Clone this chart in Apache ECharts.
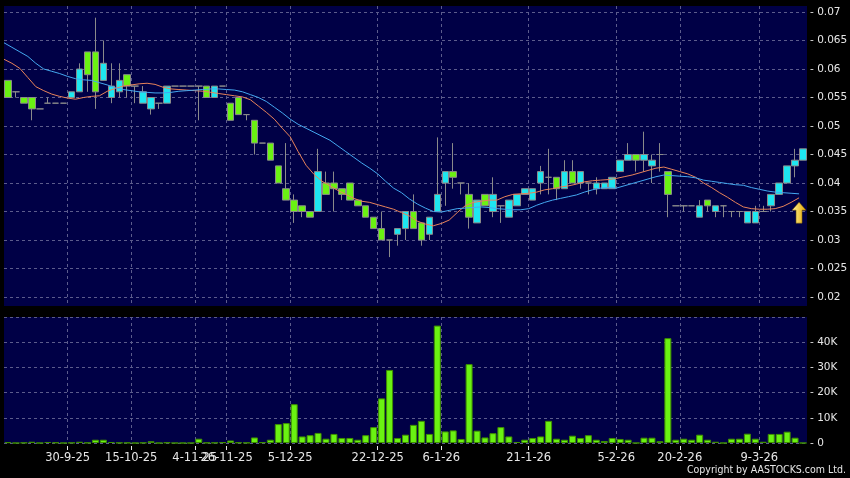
<!DOCTYPE html>
<html>
<head>
<meta charset="utf-8">
<title>Daily chart</title>
<script src="https://cdn.jsdelivr.net/npm/echarts@6/dist/echarts.min.js"></script>
<style>
  html, body { margin: 0; padding: 0; background: #000; }
  #chart { width: 850px; height: 478px; }
</style>
</head>
<body>
<div id="chart"></div>
<script>
// trading days shown on the chart
const dates = [
  '17-9-25', '18-9-25', '19-9-25', '22-9-25', '23-9-25', '24-9-25', '25-9-25', '29-9-25',
  '30-9-25', '2-10-25', '3-10-25', '6-10-25', '8-10-25', '9-10-25', '10-10-25', '14-10-25',
  '15-10-25', '16-10-25', '17-10-25', '20-10-25', '22-10-25', '24-10-25', '28-10-25', '31-10-25',
  '4-11-25', '7-11-25', '13-11-25', '20-11-25',
  '26-11-25', '27-11-25', '28-11-25', '29-11-25', '1-12-25', '2-12-25', '3-12-25', '4-12-25',
  '5-12-25', '8-12-25', '9-12-25', '10-12-25', '11-12-25', '12-12-25', '15-12-25', '16-12-25',
  '17-12-25', '18-12-25', '19-12-25',
  '22-12-25', '23-12-25', '24-12-25', '29-12-25', '30-12-25', '31-12-25', '2-1-26', '5-1-26',
  '6-1-26', '7-1-26', '8-1-26', '9-1-26', '12-1-26', '13-1-26', '14-1-26', '15-1-26', '16-1-26',
  '19-1-26', '20-1-26',
  '21-1-26', '22-1-26', '23-1-26', '26-1-26', '27-1-26', '28-1-26', '29-1-26', '30-1-26', '2-2-26',
  '3-2-26', '4-2-26',
  '5-2-26', '6-2-26', '9-2-26', '10-2-26', '11-2-26', '12-2-26', '13-2-26', '16-2-26',
  '20-2-26', '23-2-26', '24-2-26', '25-2-26', '26-2-26', '27-2-26', '2-3-26', '3-3-26', '4-3-26',
  '5-3-26',
  '9-3-26', '10-3-26', '11-3-26', '12-3-26', '13-3-26', '16-3-26'
]

// index of the dates that get a label, tick and grid line
const labelIdx = [8, 16, 24, 28, 36, 47, 55, 66, 77, 85, 95]

const openPrices = [
  0.058, 0.056, 0.055, 0.055, 0.053, 0.054, 0.054, 0.054, 0.055, 0.056,
  0.063, 0.063, 0.058, 0.055, 0.056, 0.059, 0.057, 0.054, 0.053, 0.054,
  0.054, 0.057, 0.057, 0.057, 0.057, 0.057, 0.055, 0.057, 0.054, 0.055,
  0.052, 0.051, 0.047, 0.047, 0.043, 0.039, 0.037, 0.036, 0.035, 0.035,
  0.040, 0.040, 0.039, 0.040, 0.037, 0.036, 0.034, 0.032, 0.030, 0.031,
  0.032, 0.035, 0.033, 0.031, 0.035, 0.040, 0.042, 0.040, 0.038, 0.033,
  0.038, 0.035, 0.036, 0.034, 0.036, 0.038, 0.037, 0.040, 0.041, 0.041,
  0.039, 0.042, 0.040, 0.040, 0.039, 0.039, 0.039, 0.042, 0.044, 0.045,
  0.044, 0.043, 0.045, 0.042, 0.036, 0.036, 0.036, 0.034, 0.037, 0.035,
  0.036, 0.035, 0.035, 0.033, 0.033, 0.035, 0.036, 0.038, 0.040, 0.043,
  0.044
]
const closePrices = [
  0.055, 0.056, 0.054, 0.053, 0.053, 0.054, 0.054, 0.054, 0.056, 0.060,
  0.059, 0.056, 0.061, 0.057, 0.058, 0.057, 0.057, 0.056, 0.055, 0.054,
  0.057, 0.057, 0.057, 0.057, 0.057, 0.055, 0.057, 0.057, 0.051, 0.052,
  0.052, 0.047, 0.047, 0.044, 0.040, 0.037, 0.035, 0.035, 0.034, 0.042,
  0.038, 0.039, 0.038, 0.037, 0.036, 0.034, 0.032, 0.030, 0.030, 0.032,
  0.035, 0.032, 0.030, 0.034, 0.038, 0.042, 0.041, 0.040, 0.034, 0.037,
  0.036, 0.038, 0.036, 0.037, 0.038, 0.039, 0.039, 0.042, 0.041, 0.039,
  0.042, 0.040, 0.042, 0.040, 0.040, 0.040, 0.041, 0.044, 0.045, 0.044,
  0.045, 0.044, 0.045, 0.038, 0.036, 0.036, 0.036, 0.036, 0.036, 0.036,
  0.036, 0.035, 0.035, 0.035, 0.035, 0.035, 0.038, 0.040, 0.043, 0.044,
  0.046
]
const lowPrices = [
  0.055, 0.055, 0.054, 0.051, 0.053, 0.054, 0.054, 0.054, 0.055, 0.056,
  0.056, 0.053, 0.058, 0.054, 0.055, 0.055, 0.054, 0.054, 0.052, 0.053,
  0.054, 0.057, 0.057, 0.057, 0.051, 0.055, 0.055, 0.057, 0.051, 0.052,
  0.051, 0.045, 0.047, 0.044, 0.040, 0.037, 0.033, 0.034, 0.034, 0.035,
  0.038, 0.035, 0.037, 0.037, 0.036, 0.034, 0.032, 0.030, 0.027, 0.029,
  0.030, 0.032, 0.029, 0.030, 0.035, 0.036, 0.039, 0.038, 0.032, 0.033,
  0.036, 0.034, 0.033, 0.034, 0.036, 0.038, 0.037, 0.038, 0.038, 0.037,
  0.039, 0.040, 0.039, 0.038, 0.038, 0.039, 0.039, 0.042, 0.044, 0.042,
  0.042, 0.040, 0.042, 0.034, 0.036, 0.035, 0.036, 0.034, 0.035, 0.034,
  0.034, 0.034, 0.034, 0.033, 0.033, 0.035, 0.035, 0.038, 0.040, 0.041,
  0.044
]
const highPrices = [
  0.058, 0.056, 0.055, 0.055, 0.053, 0.055, 0.054, 0.054, 0.056, 0.061,
  0.063, 0.069, 0.065, 0.061, 0.061, 0.059, 0.057, 0.057, 0.055, 0.054,
  0.057, 0.057, 0.057, 0.057, 0.057, 0.057, 0.057, 0.057, 0.054, 0.055,
  0.052, 0.051, 0.047, 0.047, 0.043, 0.047, 0.038, 0.036, 0.035, 0.046,
  0.042, 0.042, 0.039, 0.040, 0.037, 0.036, 0.034, 0.035, 0.030, 0.032,
  0.035, 0.038, 0.033, 0.034, 0.048, 0.042, 0.047, 0.040, 0.040, 0.037,
  0.038, 0.041, 0.036, 0.037, 0.038, 0.039, 0.039, 0.043, 0.046, 0.041,
  0.044, 0.044, 0.042, 0.040, 0.041, 0.040, 0.041, 0.044, 0.047, 0.045,
  0.049, 0.045, 0.047, 0.042, 0.036, 0.036, 0.036, 0.037, 0.037, 0.036,
  0.036, 0.035, 0.035, 0.035, 0.036, 0.036, 0.038, 0.040, 0.043, 0.046,
  0.046
]

const volumes = [
  300, 0, 100, 500, 0, 400, 200, 0, 100, 500,
  100, 1300, 1300, 400, 100, 100, 0, 100, 700, 0,
  200, 0, 0, 0, 1700, 100, 100, 300, 1000, 200,
  100, 2200, 300, 1300, 7500, 7900, 15400, 2600, 3100, 4000,
  1700, 3600, 2000, 2000, 1300, 3100, 6300, 17700, 29000, 2000,
  3300, 7200, 8800, 3600, 46600, 4600, 5000, 1600, 31300, 4900,
  2200, 3900, 6300, 2600, 400, 1300, 2000, 2600, 8800, 1700,
  1300, 2900, 2000, 3100, 1300, 800, 2000, 1600, 1300, 0,
  2100, 2100, 700, 41600, 1300, 1700, 1300, 3300, 1300, 500,
  0, 1700, 1700, 3700, 1700, 500, 3600, 3600, 4500, 2100,
  0
]

// moving averages as drawn (short: orange, long: blue)
const maShort = [
  0.0617, 0.0610, 0.0601, 0.0585, 0.0569, 0.0562, 0.0556, 0.0552, 0.0549, 0.0547,
  0.0550, 0.0552, 0.0553, 0.0561, 0.0566, 0.0570, 0.0572, 0.0574, 0.0575, 0.0573,
  0.0568, 0.0565, 0.0564, 0.0563, 0.0562, 0.0561, 0.0559, 0.0557, 0.0555, 0.0553,
  0.0551, 0.0546, 0.0535, 0.0524, 0.0512, 0.0496, 0.0481, 0.0455, 0.0431, 0.0415,
  0.0403, 0.0395, 0.0387, 0.0380, 0.0373, 0.0368, 0.0366, 0.0362, 0.0358, 0.0354,
  0.0348, 0.0342, 0.0333, 0.0328, 0.0325, 0.0329, 0.0335, 0.0348, 0.0360, 0.0366,
  0.0368, 0.0370, 0.0370, 0.0376, 0.0380, 0.0381, 0.0382, 0.0384, 0.0388, 0.0390,
  0.0393, 0.0395, 0.0398, 0.0402, 0.0404, 0.0405, 0.0406, 0.0408, 0.0411, 0.0414,
  0.0418, 0.0422, 0.0426, 0.0428, 0.0424, 0.0420, 0.0416, 0.0410, 0.0400, 0.0392,
  0.0383, 0.0375, 0.0366, 0.0358, 0.0355, 0.0354, 0.0354, 0.0355, 0.0359, 0.0366,
  0.0374
]
const maLong = [
  0.0646, 0.0638, 0.0630, 0.0622, 0.0610, 0.0600, 0.0596, 0.0592, 0.0587, 0.0583,
  0.0581, 0.0580, 0.0576, 0.0572, 0.0567, 0.0564, 0.0562, 0.0560, 0.0559, 0.0558,
  0.0558, 0.0559, 0.0561, 0.0562, 0.0563, 0.0564, 0.0565, 0.0565, 0.0564, 0.0563,
  0.0560, 0.0555, 0.0550, 0.0543, 0.0533, 0.0523, 0.0512, 0.0503, 0.0496, 0.0489,
  0.0482, 0.0475, 0.0465, 0.0455, 0.0445, 0.0435, 0.0426, 0.0416, 0.0403, 0.0391,
  0.0383, 0.0372, 0.0363, 0.0356, 0.0350, 0.0349, 0.0352, 0.0355, 0.0356, 0.0357,
  0.0358, 0.0357, 0.0355, 0.0354, 0.0353, 0.0353, 0.0355, 0.0361, 0.0366, 0.0370,
  0.0373, 0.0376, 0.0379, 0.0384, 0.0388, 0.0391, 0.0392, 0.0391, 0.0395, 0.0399,
  0.0403, 0.0407, 0.0411, 0.0414, 0.0413, 0.0412, 0.0411, 0.0409, 0.0405, 0.0403,
  0.0401, 0.0399, 0.0397, 0.0396, 0.0392, 0.0389, 0.0386, 0.0384, 0.0383, 0.0382,
  0.0381
]

const panelColor = '#000046'
const gridLineColor = '#5c5c8c'
const textColor = '#e6e6e6'
const fontFamily = 'DejaVu Sans'

const candles = openPrices.map((o, i) => [o, closePrices[i], lowPrices[i], highPrices[i]])
// one extra slot so the lines sit on the boundaries between bars
const edgeCats = dates.concat([''])
const showAt = (index) => labelIdx.indexOf(index) >= 0

const dashed = { show: true, interval: showAt, lineStyle: { color: gridLineColor, type: [3, 3], width: 1 } }

const chart = echarts.init(document.getElementById('chart'))

chart.setOption({
  backgroundColor: '#000',
  animation: false,
  grid: [
    { left: 4, top: 12, width: 803, height: 285, outerBoundsMode: 'none' },
    { left: 4, top: 317, width: 803, height: 126, show: true, backgroundColor: panelColor, borderWidth: 0, outerBoundsMode: 'none' },
    { left: 4, top: 6, width: 803, height: 300, show: true, backgroundColor: panelColor, borderWidth: 0, outerBoundsMode: 'none' }
  ],
  xAxis: [
    { type: 'category', gridIndex: 0, data: dates, boundaryGap: true, show: false },
    { type: 'category', gridIndex: 0, data: edgeCats, boundaryGap: false, show: false },
    { type: 'category', gridIndex: 1, data: dates, boundaryGap: true, show: false },
    {
      type: 'category',
      gridIndex: 1,
      data: edgeCats,
      boundaryGap: false,
      position: 'bottom',
      offset: 3,
      axisLine: { show: false },
      axisTick: { show: true, interval: showAt, length: 4, lineStyle: { color: textColor } },
      axisLabel: { interval: showAt, color: textColor, fontFamily, fontSize: 11.5, margin: 6 },
      splitLine: dashed
    },
    {
      type: 'category',
      gridIndex: 2,
      data: edgeCats,
      boundaryGap: false,
      axisLine: { show: false },
      axisTick: { show: false },
      axisLabel: { show: false },
      splitLine: dashed
    }
  ],
  yAxis: [
    {
      type: 'value',
      gridIndex: 0,
      position: 'right',
      min: 0.02,
      max: 0.07,
      interval: 0.005,
      axisLine: { show: false },
      axisTick: { show: false },
      axisLabel: { color: textColor, fontFamily, fontSize: 10.5, margin: 3, formatter: (v) => '- ' + v },
      splitLine: { lineStyle: { color: gridLineColor, type: [3, 3], width: 1 } }
    },
    {
      type: 'value',
      gridIndex: 1,
      position: 'right',
      min: 0,
      max: 50000,
      interval: 10000,
      axisLine: { show: false },
      axisTick: { show: false },
      axisLabel: {
        color: textColor,
        fontFamily,
        fontSize: 10.5,
        margin: 3,
        showMaxLabel: false,
        formatter: (v) => v === 0 ? '- 0' : '- ' + (v / 1000) + 'K'
      },
      splitLine: { lineStyle: { color: gridLineColor, type: [3, 3], width: 1 } }
    },
    { type: 'value', gridIndex: 2, min: 0, max: 1, show: false }
  ],
  graphic: [{
    type: 'text',
    right: 4,
    top: 465,
    style: {
      text: 'Copyright by AASTOCKS.com Ltd.',
      fill: textColor,
      font: '10.5px "DejaVu Sans Condensed", "DejaVu Sans"'
    }
  }],
  series: [
    {
      name: 'Price',
      type: 'candlestick',
      xAxisIndex: 0,
      yAxisIndex: 0,
      barWidth: 7,
      data: candles,
      itemStyle: {
        color: '#1ee6f0',
        color0: '#6af212',
        borderColor: '#8a8a8a',
        borderColor0: '#8a8a8a',
        borderColorDoji: '#8a8a8a',
        borderWidth: 1
      }
    },
    {
      name: 'MA short',
      type: 'line',
      xAxisIndex: 1,
      yAxisIndex: 0,
      data: maShort,
      symbol: 'none',
      lineStyle: { color: '#e8835a', width: 1 },
      markPoint: {
        // the yellow "up" arrow under the last bar
        symbol: 'path://M7,0 L14,8 L10,8 L10,21 L4,21 L4,8 L0,8 Z',
        symbolSize: [14, 21],
        label: { show: false },
        itemStyle: {
          color: {
            type: 'linear', x: 0, y: 0, x2: 1, y2: 0,
            colorStops: [{ offset: 0, color: '#fff59a' }, { offset: 1, color: '#e3a400' }]
          },
          borderColor: '#7a5a00',
          borderWidth: 0.5
        },
        data: [{ coord: [100, 0.0348] }]
      }
    },
    {
      name: 'MA long',
      type: 'line',
      xAxisIndex: 1,
      yAxisIndex: 0,
      data: maLong,
      symbol: 'none',
      lineStyle: { color: '#44a8f0', width: 1 }
    },
    {
      name: 'Volume',
      type: 'bar',
      xAxisIndex: 2,
      yAxisIndex: 1,
      barWidth: 7,
      data: volumes,
      itemStyle: { color: '#6af212', borderColor: '#3f8f00', borderWidth: 1 }
    }
  ]
})
</script>
</body>
</html>
